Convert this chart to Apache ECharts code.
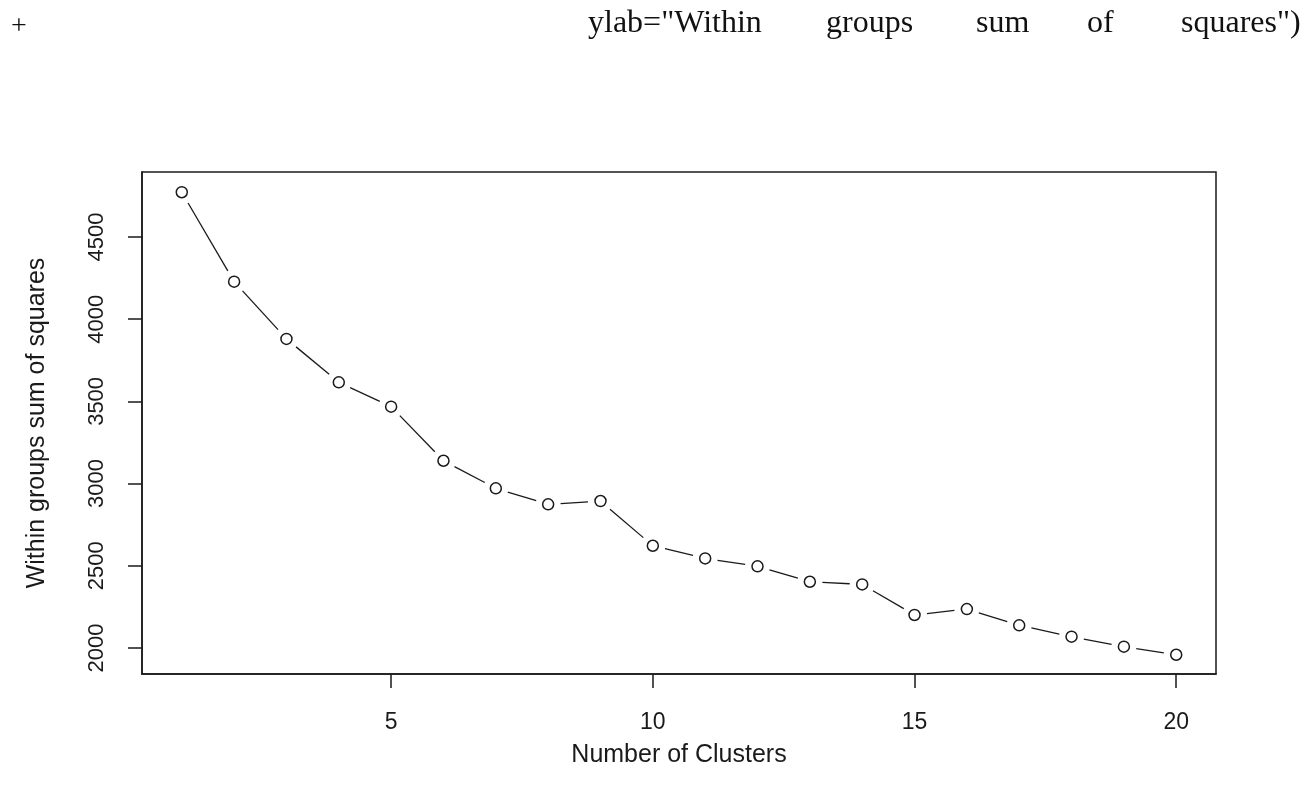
<!DOCTYPE html>
<html>
<head>
<meta charset="utf-8">
<script src="https://cdn.jsdelivr.net/npm/echarts@6/dist/echarts.min.js"></script>
<style>
  html, body { margin: 0; padding: 0; background: #fff; }
  #chart { width: 1312px; height: 798px; }
</style>
</head>
<body>
<div id="chart"></div>
<script>
(() => {
  // number of clusters k, and the within-groups sum of squares for each
  const clusters = [1, 2, 3, 4, 5, 6, 7, 8, 9, 10, 11, 12, 13, 14, 15, 16, 17, 18, 19, 20];
  const wss = [4772, 4228, 3880, 3616, 3468, 3139, 2971, 2874, 2894, 2622,
    2545, 2497, 2403, 2387, 2201, 2237, 2138, 2069, 2008, 1959];
  const xTicks = [5, 10, 15, 20];
  const yTicks = [2000, 2500, 3000, 3500, 4000, 4500];
  const codeWords = ['ylab="Within', 'groups', 'sum', 'of', 'squares")'];
  const codeWordX = [588, 826, 976, 1087, 1181];

  const points = clusters.map((k, i) => [k, wss[i]]);
  // consecutive pairs of points, for the broken line of type="b"
  const segments = points.slice(1).map((p, i) => [points[i][0], points[i][1], p[0], p[1]]);
  const ink = '#1a1a1a';
  const sans = 'Liberation Sans, Arial, sans-serif';
  const gap = 12.5; // px the line stops short of each point centre

  function renderSegment(params, api) {
    const a = api.coord([api.value(0), api.value(1)]);
    const b = api.coord([api.value(2), api.value(3)]);
    const dx = b[0] - a[0];
    const dy = b[1] - a[1];
    const len = Math.sqrt(dx * dx + dy * dy);
    if (len <= gap * 2) return null;
    const ux = dx / len;
    const uy = dy / len;
    return {
      type: 'line',
      shape: {
        x1: a[0] + ux * gap, y1: a[1] + uy * gap,
        x2: b[0] - ux * gap, y2: b[1] - uy * gap,
      },
      style: { stroke: ink, lineWidth: 1.3 },
    };
  }

  const chart = echarts.init(document.getElementById('chart'), null, { renderer: 'canvas' });

  chart.setOption({
    backgroundColor: '#fff',
    animation: false,
    graphic: [
      {
        type: 'text', left: 11, top: 13,
        style: { text: '+', font: '28px "Liberation Serif"', fill: '#111' },
      },
      ...codeWords.map((w, i) => ({
        type: 'text', left: codeWordX[i], top: 8,
        style: { text: w, font: '32px "Liberation Serif"', fill: '#111' },
      })),
    ],
    grid: {
      left: 142, right: 96, top: 172, bottom: 124,
      show: true, borderColor: ink, borderWidth: 1.5,
    },
    xAxis: {
      type: 'value',
      min: 0.24, max: 20.76,
      name: 'Number of Clusters',
      nameLocation: 'middle',
      nameGap: 69,
      nameTextStyle: { fontFamily: sans, fontSize: 25, color: ink },
      axisLine: { show: true, lineStyle: { color: ink, width: 1.5 } },
      axisTick: { show: true, inside: false, length: 14, customValues: xTicks, lineStyle: { color: ink, width: 1.5 } },
      axisLabel: { customValues: xTicks, margin: 37, fontFamily: sans, fontSize: 23, color: ink },
      splitLine: { show: false },
    },
    yAxis: {
      type: 'value',
      min: 1842, max: 4895,
      name: 'Within groups sum of squares',
      nameLocation: 'middle',
      nameRotate: 90,
      nameGap: 92,
      nameTextStyle: { fontFamily: sans, fontSize: 25, color: ink },
      axisLine: { show: true, lineStyle: { color: ink, width: 1.5 } },
      axisTick: { show: true, inside: false, length: 14, customValues: yTicks, lineStyle: { color: ink, width: 1.5 } },
      axisLabel: {
        customValues: yTicks, rotate: 90, margin: 34,
        formatter: (v) => String(v),
        fontFamily: sans, fontSize: 22, color: ink,
      },
      splitLine: { show: false },
    },
    series: [
      {
        type: 'custom',
        data: segments,
        renderItem: renderSegment,
        encode: { x: [0, 2], y: [1, 3] },
        silent: true,
        z: 2,
      },
      {
        type: 'scatter',
        data: points,
        symbol: 'circle',
        symbolSize: 11,
        itemStyle: { color: '#fff', borderColor: ink, borderWidth: 1.5, opacity: 1 },
        z: 4,
      },
    ],
  });
})();
</script>
</body>
</html>
